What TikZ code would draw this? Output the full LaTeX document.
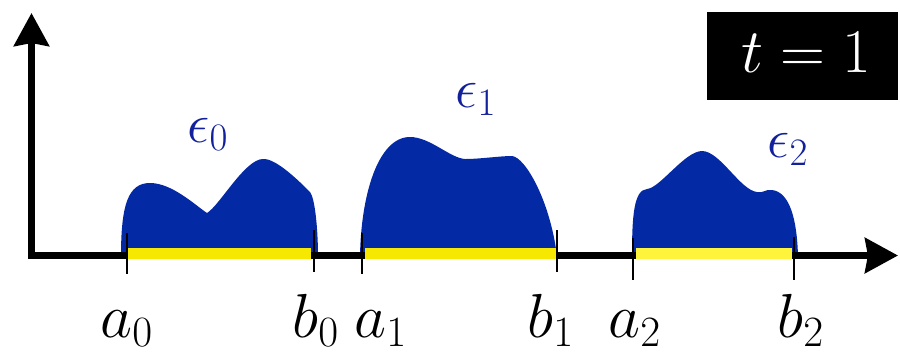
\documentclass[tikz,border=0pt]{standalone}
\usetikzlibrary{arrows.meta}
\DeclareMathSizes{24.88}{24.88}{17.28}{12}
\definecolor{blobblue}{RGB}{4,41,165}
\definecolor{epsblue}{RGB}{18,32,155}
\definecolor{barYellow}{RGB}{246,232,0}
\definecolor{barYellowLight}{RGB}{255,244,60}
\tikzset{
  axisline/.style={line width=2.6pt, line join=miter, -{Stealth[length=13.2pt,width=14pt,inset=1.2pt]}},
  blob/.style={fill=blobblue, draw=none},
  barfill/.style={fill=barYellow, draw=none},
  barfilllight/.style={fill=barYellowLight, draw=none},
  tickmark/.style={line width=1pt, black},
  endlabel/.style={anchor=base, inner sep=0pt, font=\fontsize{24.88}{30}\selectfont},
  epslabel/.style={anchor=base, inner sep=0pt, text=epsblue, font=\fontsize{24.88}{30}\selectfont},
  timebox/.style={fill=black, draw=none}
}
\begin{document}
\begin{tikzpicture}[x=0.4pt,y=-0.4pt]
\useasboundingbox (0,0) rectangle (900,355);
% blobs
\path[blob] (121,256) .. controls (121,205) and (128,183) .. (150,183)
  .. controls (172,183) and (195,205) .. (207,213)
  .. controls (220,205) and (245,159) .. (263,159)
  .. controls (276,158) and (300,182) .. (310,192)
  .. controls (315,198) and (318,230) .. (318,256) -- cycle;
\path[blob] (360,256) .. controls (361,195) and (378,137) .. (410,137)
  .. controls (430,137) and (450,158) .. (465,159)
  .. controls (480,159) and (500,156) .. (512,156)
  .. controls (525,157) and (550,200) .. (557,256) -- cycle;
\path[blob] (632,256) .. controls (632,215) and (634,190) .. (647,189)
  .. controls (660,188) and (685,151) .. (702,151)
  .. controls (720,151) and (740,190) .. (757,192)
  .. controls (765,193) and (765,189) .. (772,190)
  .. controls (790,192) and (797,220) .. (798,256) -- cycle;
% axes
\draw[axisline] (31.5,258.7) -- (31.5,13);
\draw[axisline] (28.3,255.5) -- (898,255.5);
% yellow bars
\path[barfill] (128,248) rectangle (311,259);
\path[barfill] (365,248) rectangle (557,259);
\path[barfilllight] (636,248) rectangle (792,259);
% ticks
\draw[tickmark] (127,233) -- (127,274);
\draw[tickmark] (314,230) -- (314,272);
\draw[tickmark] (362,233) -- (362,274);
\draw[tickmark] (557,230) -- (557,272);
\draw[tickmark] (633,238) -- (633,280);
\draw[tickmark] (794,237) -- (794,280);
% labels
\node[endlabel] (la0) at (127,337) {$a_0$};
\node[endlabel] (lb0) at (316,337) {$b_0$};
\node[endlabel] (la1) at (381,337) {$a_1$};
\node[endlabel] (lb1) at (551,337) {$b_1$};
\node[endlabel] (la2) at (635,337) {$a_2$};
\node[endlabel] (lb2) at (801,337) {$b_2$};
\node[epslabel] (e0) at (208,142) {\scalebox{0.9}{$\epsilon_0$}};
\node[epslabel] (e1) at (476,107) {\scalebox{0.9}{$\epsilon_1$}};
\node[epslabel] (e2) at (788,157) {\scalebox{0.9}{$\epsilon_2$}};
% time box
\path[timebox] (707,12) rectangle (898,100);
\node[endlabel, text=white] (tlabel) at (806,72) {$t=1$};
\end{tikzpicture}
\end{document}
